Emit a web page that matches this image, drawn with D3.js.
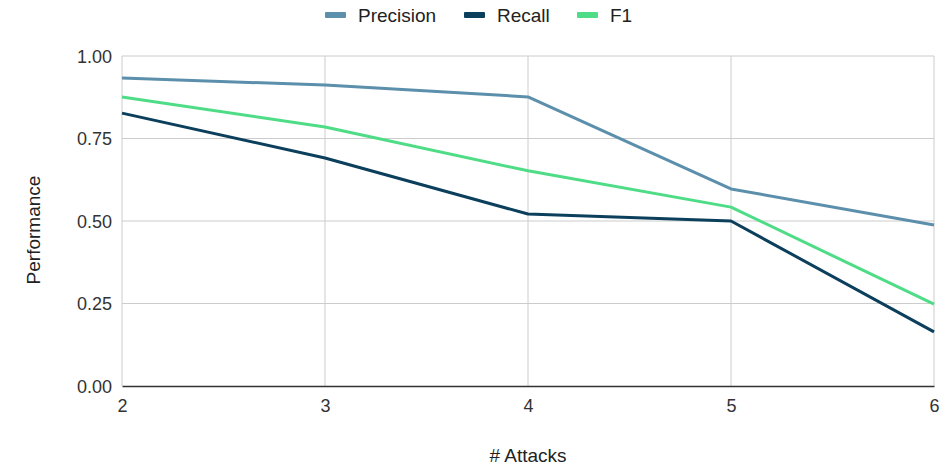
<!DOCTYPE html>
<html>
<head>
<meta charset="utf-8">
<script src="https://cdn.jsdelivr.net/npm/d3@7"></script>
<style>
  body { margin: 0; background: #fff; }
  text { font-family: "Liberation Sans", Arial, sans-serif; }
</style>
</head>
<body>
<svg id="chart" width="951" height="465"></svg>
<script>
const attacks = [2, 3, 4, 5, 6];
const precision = [0.933, 0.912, 0.876, 0.597, 0.488];
const recall = [0.827, 0.691, 0.521, 0.500, 0.164];
const f1 = [0.876, 0.785, 0.652, 0.542, 0.248];
const yTicks = [0, 0.25, 0.5, 0.75, 1];

const series = [
  { name: "Precision", values: precision, color: "#5b8fab" },
  { name: "Recall", values: recall, color: "#0b3f5c" },
  { name: "F1", values: f1, color: "#4fdc86" }
];

const width = 951, height = 465;
const margin = { left: 122, right: 17, top: 56, bottom: 79 };

const svg = d3.select("#chart");

const x = d3.scaleLinear().domain([2, 6]).range([margin.left, width - margin.right]);
const y = d3.scaleLinear().domain([0, 1]).range([height - margin.bottom, margin.top]);

// Grid lines
const grid = svg.append("g");
grid.selectAll("line.h")
  .data(yTicks.filter(d => d > 0))
  .join("line")
  .attr("x1", x(2)).attr("x2", x(6))
  .attr("y1", d => y(d)).attr("y2", d => y(d))
  .attr("stroke", "#cccccc").attr("stroke-width", 1);
grid.selectAll("line.v")
  .data(attacks)
  .join("line")
  .attr("x1", d => x(d)).attr("x2", d => x(d))
  .attr("y1", y(1)).attr("y2", y(0))
  .attr("stroke", "#cccccc").attr("stroke-width", 1);

// Y axis labels
const yAxis = svg.append("g")
  .attr("transform", `translate(${margin.left - 10},0)`)
  .call(d3.axisLeft(y).tickValues(yTicks).tickFormat(d3.format(".2f")).tickSize(0).tickPadding(0));
yAxis.select(".domain").remove();
yAxis.selectAll("text").attr("font-size", 18).attr("fill", "#333").attr("dy", "0.35em")
  .style("font-family", "'Liberation Sans', Arial, sans-serif");

// X axis
const xAxis = svg.append("g")
  .attr("transform", `translate(0,${y(0)})`)
  .call(d3.axisBottom(x).tickValues(attacks).tickFormat(d3.format("d")).tickSize(0).tickPadding(13));
xAxis.select(".domain").attr("stroke", "#333").attr("stroke-width", 1.3);
xAxis.selectAll("text").attr("font-size", 18).attr("fill", "#333")
  .style("font-family", "'Liberation Sans', Arial, sans-serif");

// Lines
const line = d3.line().x((d, i) => x(attacks[i])).y(d => y(d));
svg.append("g").selectAll("path")
  .data(series)
  .join("path")
  .attr("d", d => line(d.values))
  .attr("fill", "none")
  .attr("stroke", d => d.color)
  .attr("stroke-width", 3)
  .attr("stroke-linejoin", "round");

// Axis titles
svg.append("text")
  .attr("x", 528)
  .attr("y", 462)
  .attr("text-anchor", "middle")
  .attr("font-size", 19)
  .attr("fill", "#222")
  .text("# Attacks");

svg.append("text")
  .attr("transform", `translate(40,230) rotate(-90)`)
  .attr("text-anchor", "middle")
  .attr("font-size", 19)
  .attr("fill", "#222")
  .text("Performance");

// Legend
const legendX = [325, 464, 577];
const legend = svg.append("g").selectAll("g")
  .data(series)
  .join("g")
  .attr("transform", (d, i) => `translate(${legendX[i]},15)`);
legend.append("rect")
  .attr("x", 0).attr("y", -3).attr("width", 21).attr("height", 6)
  .attr("rx", 1)
  .attr("fill", d => d.color);
legend.append("text")
  .attr("x", 33).attr("y", 0).attr("dy", "0.35em")
  .attr("font-size", 19)
  .attr("fill", "#222")
  .text(d => d.name);
</script>
</body>
</html>
